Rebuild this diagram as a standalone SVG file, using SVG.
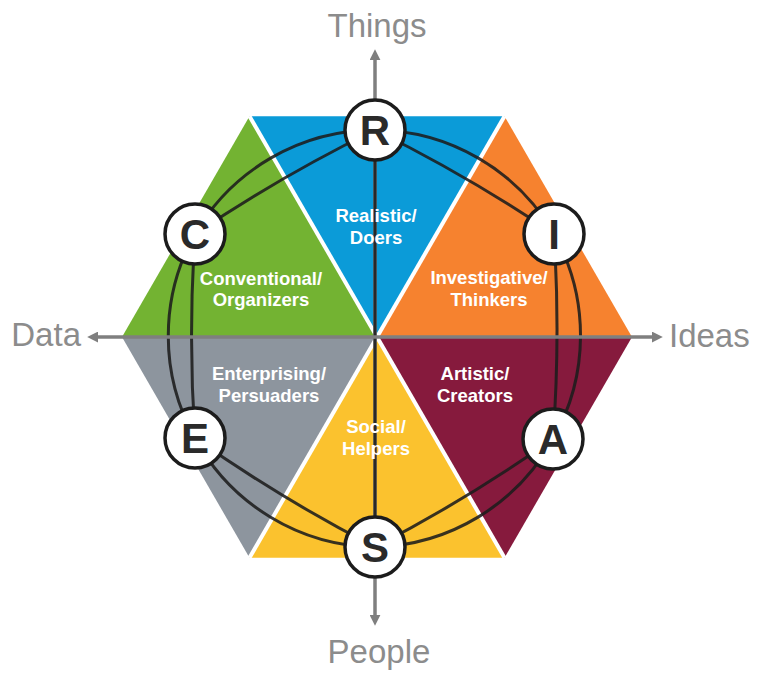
<svg xmlns="http://www.w3.org/2000/svg" width="757" height="675" viewBox="0 0 757 675">
  <defs>
    <style>
      .axis { stroke: #7f7f7f; stroke-width: 3.5; fill: none; }
      .axlbl { font-family: "Liberation Sans", Arial, sans-serif; font-size: 33px; fill: #8c8c8c; }
      .lbl { font-family: "Liberation Sans", Arial, sans-serif; font-size: 18.5px; font-weight: bold; fill: #ffffff; text-anchor: middle; }
      .divider { stroke: #ffffff; stroke-width: 4; }
      .globe { stroke: #1c1c1c; stroke-width: 3; fill: none; stroke-opacity: 0.88; }
      .ring { fill: #ffffff; stroke: #1c1c1c; stroke-width: 3.5; }
      .letter { font-family: "Liberation Sans", Arial, sans-serif; font-size: 42px; font-weight: bold; fill: #2a2a2a; text-anchor: middle; }
    </style>
    <marker id="arrow" markerUnits="userSpaceOnUse" markerWidth="11" markerHeight="11" viewBox="0 0 10 10" refX="2" refY="5" orient="auto-start-reverse">
      <path d="M0,0 L10,5 L0,10 z" fill="#7f7f7f"/>
    </marker>
  </defs>
  <rect width="757" height="675" fill="#ffffff"/>

  <!-- sectors -->
  <g id="realistic">
    <polygon points="377,337 504.5,116.2 249.5,116.2" fill="#0b9bd8"/>
  </g>
  <g id="conventional">
    <polygon points="377,337 249.5,116.2 122,337" fill="#73b332"/>
  </g>
  <g id="enterprising">
    <polygon points="377,337 122,337 249.5,557.8" fill="#8d959e"/>
  </g>
  <g id="social">
    <polygon points="377,337 249.5,557.8 504.5,557.8" fill="#fbc22e"/>
  </g>
  <g id="artistic">
    <polygon points="377,337 504.5,557.8 632,337" fill="#861a3d"/>
  </g>
  <g id="investigative">
    <polygon points="377,337 632,337 504.5,116.2" fill="#f6822f"/>
  </g>
  <g id="dividers">
    <line class="divider" x1="504.5" y1="116.2" x2="249.5" y2="557.8"/>
    <line class="divider" x1="249.5" y1="116.2" x2="504.5" y2="557.8"/>
  </g>

  <!-- connectors -->
  <g id="connectors">
    <line class="axis" x1="375" y1="58" x2="375" y2="617" marker-start="url(#arrow)" marker-end="url(#arrow)"/>
    <path class="globe" d="M375,130 A208,208 0 0 1 554,234 A208,208 0 0 1 553,439 A208,208 0 0 1 375,547 A208,208 0 0 1 195,438 A208,208 0 0 1 195,234 A208,208 0 0 1 375,130 Z"/>
    <path class="globe" d="M375,130 A1500,1500 0 0 1 554,234 A1500,1500 0 0 1 553,439 A1500,1500 0 0 1 375,547 A1500,1500 0 0 1 195,438 A1500,1500 0 0 1 195,234 A1500,1500 0 0 1 375,130 Z"/>
    <line class="globe" x1="375" y1="130" x2="375" y2="547"/>
    <line class="axis" x1="96" y1="337" x2="654" y2="337" marker-start="url(#arrow)" marker-end="url(#arrow)"/>
  </g>

  <!-- axis labels -->
  <g id="axis-labels">
    <text class="axlbl" x="377" y="37" text-anchor="middle">Things</text>
    <text class="axlbl" x="379" y="663" text-anchor="middle">People</text>
    <text class="axlbl" x="81" y="346" text-anchor="end">Data</text>
    <text class="axlbl" x="669" y="347">Ideas</text>
  </g>

  <!-- sector labels -->
  <g id="labels">
    <text class="lbl" x="376" y="222">Realistic/</text>
    <text class="lbl" x="376" y="244">Doers</text>
    <text class="lbl" x="261" y="285">Conventional/</text>
    <text class="lbl" x="261" y="306">Organizers</text>
    <text class="lbl" x="489" y="284">Investigative/</text>
    <text class="lbl" x="489" y="306">Thinkers</text>
    <text class="lbl" x="269" y="380">Enterprising/</text>
    <text class="lbl" x="269" y="402">Persuaders</text>
    <text class="lbl" x="475" y="380">Artistic/</text>
    <text class="lbl" x="475" y="402">Creators</text>
    <text class="lbl" x="376" y="433">Social/</text>
    <text class="lbl" x="376" y="455">Helpers</text>
  </g>

  <!-- letter nodes -->
  <g id="node-R"><circle class="ring" cx="375" cy="130" r="30"/><text class="letter" x="375" y="145">R</text></g>
  <g id="node-I"><circle class="ring" cx="554" cy="234" r="30"/><text class="letter" x="554" y="249">I</text></g>
  <g id="node-A"><circle class="ring" cx="553" cy="439" r="30"/><text class="letter" x="553" y="454">A</text></g>
  <g id="node-S"><circle class="ring" cx="375" cy="547" r="30"/><text class="letter" x="375" y="562">S</text></g>
  <g id="node-E"><circle class="ring" cx="195" cy="438" r="30"/><text class="letter" x="195" y="453">E</text></g>
  <g id="node-C"><circle class="ring" cx="195" cy="234" r="30"/><text class="letter" x="195" y="249">C</text></g>
</svg>
